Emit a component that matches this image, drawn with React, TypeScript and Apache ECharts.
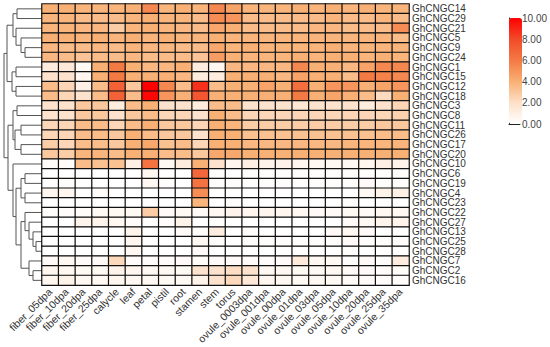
import React, { useEffect, useRef } from 'react';
import * as echarts from 'echarts';

const FONT = '"Liberation Sans", Arial, sans-serif';

const genes = [
  'GhCNGC14', 'GhCNGC29', 'GhCNGC21', 'GhCNGC5', 'GhCNGC9', 'GhCNGC24', 'GhCNGC1', 'GhCNGC15',
  'GhCNGC12', 'GhCNGC18', 'GhCNGC3', 'GhCNGC8', 'GhCNGC11', 'GhCNGC26', 'GhCNGC17', 'GhCNGC20',
  'GhCNGC10', 'GhCNGC6', 'GhCNGC19', 'GhCNGC4', 'GhCNGC23', 'GhCNGC22', 'GhCNGC27', 'GhCNGC13',
  'GhCNGC25', 'GhCNGC28', 'GhCNGC7', 'GhCNGC2', 'GhCNGC16',
];

const tissues = [
  'fiber_05dpa', 'fiber_10dpa', 'fiber_20dpa', 'fiber_25dpa', 'calycle', 'leaf', 'petal', 'pistil',
  'root', 'stamen', 'stem', 'torus', 'ovule_0003dpa', 'ovule_001dpa', 'ovule_00dpa', 'ovule_01dpa',
  'ovule_03dpa', 'ovule_05dpa', 'ovule_10dpa', 'ovule_20dpa', 'ovule_25dpa', 'ovule_35dpa',
];

// one row per gene, in the order of `genes`, one value per tissue
const expr: number[][] = [
  [4.0, 4.0, 3.8, 3.8, 3.8, 4.0, 5.5, 3.8, 4.0, 3.8, 5.5, 4.5, 3.8, 3.8, 3.8, 4.0, 3.8, 4.0, 3.8, 4.0, 3.8, 3.8],
  [3.8, 3.8, 3.5, 3.5, 3.5, 3.8, 4.0, 3.8, 3.8, 3.5, 5.3, 5.0, 3.5, 3.5, 3.5, 3.5, 3.5, 3.8, 3.5, 3.5, 3.8, 3.5],
  [3.8, 3.8, 3.7, 3.7, 2.8, 3.8, 4.0, 3.8, 3.7, 3.5, 4.3, 4.0, 3.5, 3.5, 3.5, 3.5, 3.7, 3.7, 3.5, 3.5, 3.5, 5.3],
  [4.0, 4.0, 3.8, 4.0, 3.8, 4.0, 3.8, 4.0, 3.8, 3.8, 4.0, 3.8, 3.8, 3.8, 3.8, 3.8, 3.8, 3.8, 3.8, 3.8, 3.8, 3.5],
  [3.7, 3.5, 3.5, 3.7, 3.5, 3.8, 3.7, 3.7, 3.5, 3.5, 4.3, 3.8, 4.0, 3.8, 3.8, 3.8, 3.8, 4.0, 3.8, 3.8, 3.8, 3.8],
  [3.7, 3.5, 3.2, 3.5, 3.5, 3.7, 3.5, 3.5, 3.5, 3.2, 4.7, 4.0, 3.8, 3.8, 3.8, 4.0, 3.8, 4.0, 4.0, 3.8, 4.0, 3.8],
  [1.2, 1.4, 0.4, 4.0, 6.0, 4.0, 3.7, 3.7, 4.0, 1.2, 0.6, 3.7, 3.7, 3.7, 3.7, 5.5, 4.0, 4.0, 3.7, 4.5, 5.5, 5.5],
  [1.8, 1.8, 0.6, 4.0, 6.0, 4.0, 4.0, 4.0, 3.7, 1.2, 1.2, 4.0, 4.0, 4.0, 3.7, 4.5, 4.0, 4.0, 3.5, 6.0, 5.7, 5.5],
  [3.5, 2.4, 1.0, 3.5, 7.0, 3.0, 10.0, 5.5, 3.5, 8.7, 3.5, 4.0, 4.0, 4.5, 4.0, 6.5, 4.0, 5.0, 5.0, 4.0, 4.5, 5.0],
  [3.5, 2.4, 1.8, 3.5, 7.0, 3.5, 9.8, 5.0, 4.0, 7.5, 4.0, 4.0, 4.0, 4.0, 4.0, 6.0, 4.0, 4.5, 4.0, 3.5, 2.2, 4.0],
  [1.8, 1.8, 3.0, 3.0, 1.2, 3.5, 4.0, 1.8, 1.8, 1.2, 3.5, 3.5, 1.8, 1.8, 1.8, 1.6, 1.8, 1.8, 1.8, 1.2, 1.8, 2.4],
  [1.8, 1.8, 3.0, 3.0, 1.8, 3.0, 3.5, 2.4, 2.4, 1.8, 4.0, 3.5, 2.4, 2.4, 2.4, 2.4, 2.4, 2.4, 2.4, 2.4, 2.4, 2.6],
  [2.4, 2.4, 3.5, 3.5, 2.4, 3.5, 4.0, 3.0, 3.0, 2.4, 4.0, 3.8, 2.8, 2.8, 2.8, 2.8, 2.8, 2.8, 2.8, 2.8, 3.0, 3.0],
  [2.4, 2.4, 3.5, 3.5, 3.0, 4.0, 3.5, 3.0, 3.0, 1.8, 4.0, 4.0, 3.3, 3.3, 3.3, 3.3, 3.3, 3.3, 3.3, 3.3, 3.5, 3.5],
  [2.8, 2.4, 3.5, 3.5, 3.0, 4.0, 4.3, 3.3, 3.5, 2.4, 4.0, 4.0, 3.7, 3.7, 3.7, 3.7, 3.7, 3.7, 3.8, 3.8, 3.8, 3.8],
  [3.0, 2.8, 3.8, 3.8, 3.5, 4.0, 4.0, 3.5, 3.5, 3.0, 4.3, 4.3, 4.0, 4.0, 4.0, 4.0, 4.0, 4.0, 4.0, 4.0, 4.0, 4.0],
  [0.2, 0.2, 3.5, 3.3, 3.3, 1.0, 6.3, 0.4, 1.2, 4.0, 1.8, 0.6, 1.0, 0.7, 0.8, 0.6, 0.5, 0.4, 0.4, 0.6, 1.0, 0.7],
  [0.0, 0.0, 0.0, 0.0, 0.0, 0.0, 0.5, 0.0, 0.0, 6.8, 0.1, 0.0, 0.1, 0.1, 0.1, 0.1, 0.1, 0.1, 0.1, 0.1, 0.1, 0.1],
  [0.1, 0.1, 0.0, 0.0, 0.0, 0.0, 0.5, 0.1, 0.0, 6.3, 0.1, 0.1, 0.1, 0.1, 0.1, 0.1, 0.1, 0.1, 0.1, 0.3, 0.1, 0.1],
  [0.6, 0.6, 0.0, 0.2, 0.0, 0.0, 0.0, 0.0, 0.0, 5.3, 0.0, 0.0, 0.0, 0.0, 0.0, 0.0, 0.0, 0.0, 0.0, 0.5, 0.8, 1.0],
  [0.0, 0.0, 0.0, 0.0, 0.0, 0.0, 0.0, 0.0, 0.0, 3.8, 0.0, 0.1, 0.0, 0.0, 0.0, 0.0, 0.0, 0.0, 0.1, 0.0, 0.0, 0.0],
  [0.1, 0.1, 0.2, 0.4, 0.4, 0.4, 2.8, 0.3, 0.4, 0.3, 0.5, 0.7, 0.6, 0.6, 0.6, 0.5, 0.3, 0.3, 0.4, 0.3, 0.5, 0.5],
  [0.0, 0.0, 0.7, 0.7, 0.5, 0.2, 0.0, 0.2, 0.8, 0.0, 0.1, 0.0, 0.0, 0.0, 0.0, 0.0, 0.0, 0.0, 0.3, 0.5, 0.7, 0.7],
  [0.0, 0.0, 0.0, 0.0, 0.0, 0.7, 0.0, 0.0, 0.3, 0.1, 1.2, 0.0, 0.2, 0.0, 0.0, 0.0, 0.0, 0.3, 0.5, 0.3, 0.0, 0.0],
  [0.0, 0.0, 0.0, 0.0, 0.0, 0.6, 0.0, 0.0, 0.0, 0.5, 0.1, 0.0, 0.1, 0.1, 0.1, 0.1, 0.1, 0.1, 0.3, 0.1, 0.1, 0.1],
  [0.0, 0.0, 0.0, 0.0, 0.0, 0.5, 0.0, 0.0, 0.0, 0.3, 0.0, 0.0, 0.0, 0.0, 0.0, 0.0, 0.0, 0.0, 0.1, 0.0, 0.0, 0.0],
  [0.3, 0.5, 0.3, 0.3, 2.3, 0.2, 0.2, 0.2, 0.3, 0.2, 0.3, 0.3, 0.2, 0.2, 0.3, 1.3, 0.5, 0.4, 0.1, 0.3, 0.1, 1.2],
  [0.6, 0.5, 0.4, 0.4, 0.7, 0.6, 0.5, 0.5, 0.4, 1.8, 1.8, 2.1, 1.8, 0.5, 0.5, 0.4, 0.4, 0.5, 0.3, 0.3, 0.2, 0.2],
  [0.6, 0.8, 0.5, 0.4, 0.6, 0.5, 0.5, 0.4, 0.4, 0.8, 1.8, 2.3, 1.4, 0.6, 0.5, 0.4, 0.5, 0.4, 0.3, 0.3, 0.2, 0.2],
];

// hierarchical clustering merges: [childA, childB, distance]; a number refers to an earlier merge
const linkage: [string | number, string | number, number][] = [
  ['GhCNGC14', 'GhCNGC29', 25], // 0
  ['GhCNGC9', 'GhCNGC24', 17], // 1
  ['GhCNGC5', 1, 21], // 2
  ['GhCNGC21', 2, 26], // 3
  [0, 3, 29], // 4
  ['GhCNGC1', 'GhCNGC15', 26], // 5
  ['GhCNGC12', 'GhCNGC18', 26], // 6
  [5, 6, 30], // 7
  [4, 7, 35], // 8
  ['GhCNGC3', 'GhCNGC8', 25], // 9
  ['GhCNGC11', 'GhCNGC26', 21], // 10
  ['GhCNGC17', 'GhCNGC20', 21], // 11
  [10, 11, 27], // 12
  [9, 12, 29], // 13
  ['GhCNGC6', 'GhCNGC19', 17], // 14
  ['GhCNGC4', 'GhCNGC23', 17], // 15
  [14, 15, 21], // 16
  ['GhCNGC25', 'GhCNGC28', 6], // 17
  ['GhCNGC13', 17, 9], // 18
  ['GhCNGC27', 18, 13], // 19
  ['GhCNGC22', 19, 17], // 20
  ['GhCNGC2', 'GhCNGC16', 9], // 21
  ['GhCNGC7', 21, 13], // 22
  [20, 22, 21], // 23
  [16, 23, 26], // 24
  ['GhCNGC10', 24, 29], // 25
  [13, 25, 34], // 26
  [8, 26, 38], // 27
];

const scaleColors = ['#ffffff', '#fde0c8', '#f9b074', '#f47a44', '#f24a2a', '#ff0000'];

export default function App() {
  const ref = useRef<HTMLDivElement>(null);

  useEffect(() => {
    document.body.style.margin = '0';
    const chart = echarts.init(ref.current!, null, { renderer: 'svg' });
    const data: [number, number, number][] = [];
    expr.forEach((row, r) => row.forEach((v, c) => data.push([c, r, v])));

    chart.setOption({
      animation: false,
      textStyle: { fontFamily: FONT },
      grid: [
        { left: 42, top: 4, width: 367, height: 284 },
        { left: 509, top: 18, width: 13, height: 106 },
      ],
      xAxis: [
        {
          type: 'category', data: tissues, gridIndex: 0,
          axisLine: { show: false }, axisTick: { show: false }, splitLine: { show: false },
          axisLabel: { rotate: 45, fontSize: 10.5, color: '#333', margin: 5, interval: 0, fontFamily: FONT },
        },
        {
          type: 'value', gridIndex: 1, min: 0, max: 1,
          axisLine: { show: true, onZero: false, lineStyle: { color: '#222' } },
          axisTick: { show: false }, axisLabel: { show: false }, splitLine: { show: false },
        },
      ],
      yAxis: [
        {
          type: 'category', data: genes, inverse: true, position: 'right', gridIndex: 0,
          axisLine: { show: false }, axisTick: { show: false }, splitLine: { show: false },
          axisLabel: { fontSize: 10, lineHeight: 9, color: '#333', margin: 3, interval: 0, fontFamily: FONT },
        },
        {
          type: 'value', gridIndex: 1, min: 0, max: 10, interval: 2, position: 'right',
          axisLine: { show: true, lineStyle: { color: '#222' } },
          axisTick: { show: true, length: 3, lineStyle: { color: '#222' } },
          splitLine: { show: false },
          axisLabel: { formatter: (v: number) => v.toFixed(2), fontSize: 10, color: '#444', margin: 2, fontFamily: FONT },
        },
      ],
      visualMap: {
        type: 'continuous', min: 0, max: 10, seriesIndex: 0, orient: 'vertical',
        left: 509, top: 18, itemWidth: 13, itemHeight: 106, padding: 0,
        calculable: false, showLabel: false,
        inRange: { color: scaleColors },
      },
      series: [
        {
          type: 'heatmap', xAxisIndex: 0, yAxisIndex: 0, data,
          itemStyle: { borderColor: '#111', borderWidth: 1.2 },
          emphasis: { disabled: true },
        },
      ],
    });

    // dendrogram, positioned through the category axes
    const c0 = chart.convertToPixel({ xAxisIndex: 0 }, tissues[0]) as number;
    const c1 = chart.convertToPixel({ xAxisIndex: 0 }, tissues[1]) as number;
    const left = c0 - (c1 - c0) / 2;
    const unit = 1;
    const nodes: { y: number; h: number }[] = [];
    const lines: any[] = [];
    const resolve = (r: string | number) =>
      typeof r === 'number' ? nodes[r] : { y: chart.convertToPixel({ yAxisIndex: 0 }, r) as number, h: 0 };
    const seg = (x1: number, y1: number, x2: number, y2: number) =>
      lines.push({
        type: 'line', silent: true,
        shape: { x1, y1, x2, y2 },
        style: { stroke: '#555', lineWidth: 1 },
      });
    linkage.forEach(([a, b, h]) => {
      const A = resolve(a);
      const B = resolve(b);
      const xh = left - h * unit;
      seg(xh, A.y, xh, B.y);
      seg(left - A.h * unit, A.y, xh, A.y);
      seg(left - B.h * unit, B.y, xh, B.y);
      nodes.push({ y: (A.y + B.y) / 2, h });
    });
    chart.setOption({ graphic: lines });

    return () => chart.dispose();
  }, []);

  return <div ref={ref} style={{ width: 550, height: 347 }} />;
}
